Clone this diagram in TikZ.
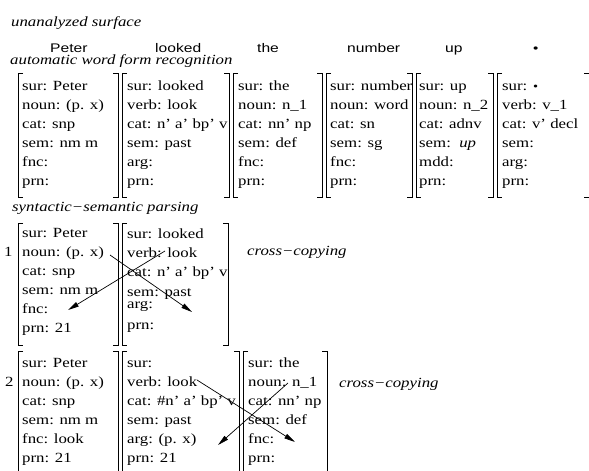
\documentclass[tikz,border=0pt]{standalone}
\usepackage{fontspec}
\setmainfont{Liberation Serif}[FakeStretch=1.2]
\newfontfamily\hsans{Liberation Sans}[FakeStretch=1.25]
\usetikzlibrary{arrows.meta}
\newcommand\dotmark{{\fontsize{12}{12}\selectfont •}}
\newcommand\fsbox[4]{\foreach \t [count=\i] in {#4} {\node[fld] (#1-\i) at (#2, {#3+19*(\i-1)}) {\t};}}
\newcommand\lbrk[3]{\draw[brk] (#1+5,#2) -- (#1,#2) -- (#1,#3) -- (#1+5,#3);}
\newcommand\rbrk[3]{\draw[brk] (#1-5,#2) -- (#1,#2) -- (#1,#3) -- (#1-5,#3);}
\newcommand\lbrkopen[3]{\draw[brk] (#1+5,#2) -- (#1,#2) -- (#1,#3);}
\newcommand\rbrkopen[3]{\draw[brk] (#1-5,#2) -- (#1,#2) -- (#1,#3);}
\begin{document}
\begin{tikzpicture}[x=1pt,y=-1pt,
  fld/.style={anchor=base west, inner sep=0pt, font=\fontsize{14}{19}\selectfont},
  lbl/.style={anchor=base west, inner sep=0pt, font=\fontsize{14}{19}\selectfont\itshape},
  word/.style={anchor=base west, inner sep=0pt, font=\hsans\fontsize{12.5}{15}\selectfont},
  brk/.style={line width=0.8pt},
  cpy/.style={line width=0.7pt, -{Triangle[length=11pt,width=5pt]}}]
\useasboundingbox (0,0) rectangle (589,471);
% headings
\node[lbl] (hsurf) at (11,26) {unanalyzed surface};
\node[word] (w1) at (50,52) {Peter};
\node[word] (w2) at (155,52) {looked};
\node[word] (w3) at (257,52) {the};
\node[word] (w4) at (347,52) {number};
\node[word] (w5) at (445,52) {up};
\node[word] (w6) at (533,52) {\dotmark};
\node[lbl] (hrec) at (10,64) {automatic word form recognition};
% top row
\fsbox{t1}{22}{90}{{sur: Peter},{noun: (p. x)},{cat: snp},{sem: nm m},{fnc:},{prn:}}
\fsbox{t2}{127}{90}{{sur: looked},{verb: look},{cat: n' a' bp' v},{sem: past},{arg:},{prn:}}
\fsbox{t3}{238}{90}{{sur: the},{noun: n\_1},{cat: nn' np},{sem: def},{fnc:},{prn:}}
\fsbox{t4}{330}{90}{{sur: number},{noun: word},{cat: sn},{sem: sg},{fnc:},{prn:}}
\fsbox{t5}{419}{90}{{sur: up},{noun: n\_2},{cat: adnv},{sem:~~\textit{up}},{mdd:},{prn:}}
\fsbox{t6}{502}{90}{{sur: \dotmark},{verb: v\_1},{cat: v' decl},{sem:},{arg:},{prn:}}
\lbrk{18}{73}{197}\rbrk{118}{73}{197}
\lbrk{122}{73}{197}\rbrk{229}{73}{197}
\lbrk{233}{73}{197}\rbrk{322}{73}{197}
\lbrk{326}{73}{197}\rbrk{412}{73}{197}
\lbrk{416}{73}{197}\rbrk{493}{73}{197}
\lbrk{497}{73}{197}\rbrk{589}{73}{197}
% parsing step 1
\node[lbl] (hpar) at (12,211) {syntactic−semantic parsing};
\node[fld] (n1) at (4,256) {1};
\fsbox{a1}{22}{237}{{sur: Peter},{noun: (p. x)},{cat: snp},{sem: nm m},{fnc:},{prn: 21}}
\node[fld] (a2-1) at (127,238) {sur: looked};
\node[fld] (a2-2) at (127,257) {verb: look};
\node[fld] (a2-3) at (127,276) {cat: n' a' bp' v};
\node[fld] (a2-4) at (127,296) {sem: past};
\node[fld] (a2-5) at (127,308) {arg:};
\node[fld] (a2-6) at (127,329) {prn:};
\lbrk{18}{223}{345}\rbrk{118}{223}{345}
\lbrk{122}{223}{345}\rbrk{228}{223}{345}
\node[lbl] (cc1) at (247,255) {cross−copying};
\coordinate (s1a) at (110,255);
\coordinate (e1a) at (192,312);
\coordinate (s1b) at (165,251);
\coordinate (e1b) at (68,310);
\draw[cpy] (s1a) -- (e1a);
\draw[cpy] (s1b) -- (e1b);
% parsing step 2
\node[fld] (n2) at (5,386) {2};
\fsbox{b1}{22}{367}{{sur: Peter},{noun: (p. x)},{cat: snp},{sem: nm m},{fnc: look},{prn: 21}}
\fsbox{b2}{127}{367}{{sur:},{verb: look},{cat: \#n' a' bp' v},{sem: past},{arg: (p. x)},{prn: 21}}
\fsbox{b3}{248}{367}{{sur: the},{noun: n\_1},{cat: nn' np},{sem: def},{fnc:},{prn:}}
\lbrkopen{18}{351}{475}\rbrkopen{118}{351}{475}
\lbrkopen{122}{351}{475}\rbrkopen{239}{351}{475}
\lbrkopen{243}{351}{475}\rbrkopen{327}{351}{475}
\node[lbl] (cc2) at (339,387) {cross−copying};
\coordinate (s2a) at (197,380);
\coordinate (e2a) at (295,442);
\coordinate (s2b) at (288,383);
\coordinate (e2b) at (218,445);
\draw[cpy] (s2a) -- (e2a);
\draw[cpy] (s2b) -- (e2b);
\end{tikzpicture}
\end{document}
